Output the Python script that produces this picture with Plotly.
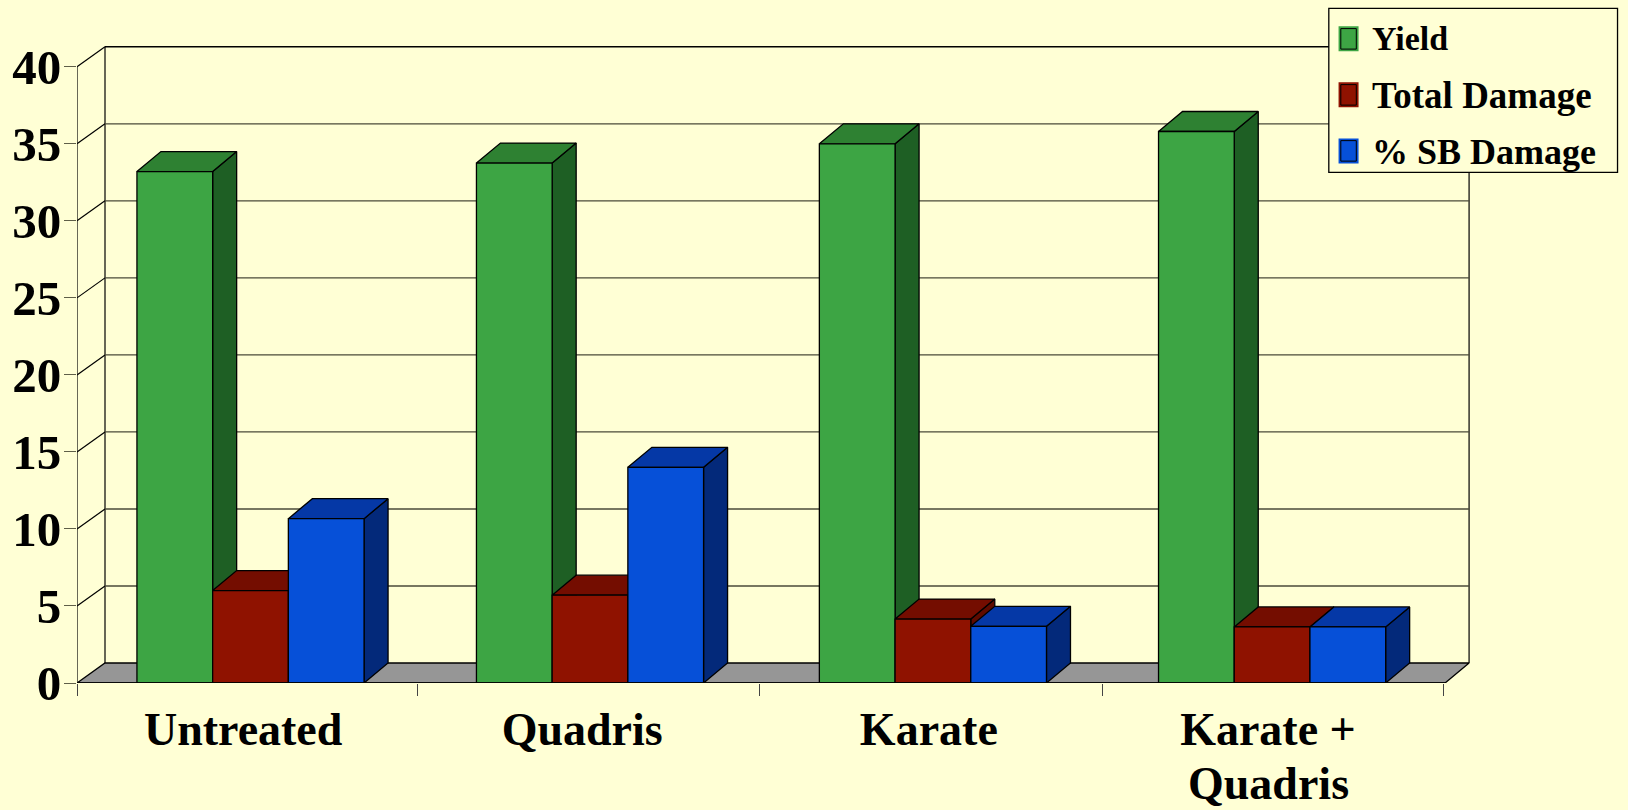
import plotly.graph_objects as go

categories = ["Untreated", "Quadris", "Karate", "Karate +"]
category_second_line = "Quadris"
series_names = ["Yield", "Total Damage", "% SB Damage"]
yield_values = [33.2, 33.75, 35.0, 35.8]
total_damage = [6.0, 5.7, 4.15, 3.64]
sb_damage = [10.67, 14.0, 3.68, 3.64]
y_ticks = [0, 5, 10, 15, 20, 25, 30, 35, 40]

BG = "#FFFFD5"
FONT = "Liberation Serif"
INK = "#000000"
front = ["#3DA544", "#8F1200", "#0650D8"]
top = ["#2E8132", "#740D00", "#0538A6"]
side = ["#1E5F24", "#5E0B00", "#03297A"]
series = [yield_values, total_damage, sb_damage]

# geometry in data units
PX_X, PX_Y = 340.5, 15.4          # pixels per category, pixels per y unit
X0_PX, Y0_PX = 250.7, 682.7       # page position of x=0, y=0
BW = 75.7 / PX_X                  # bar width
DX, DY = 24 / PX_X, 20 / PX_Y     # bar depth offset
X_LEFT = -0.5095
WALL_L = X_LEFT + 28 / PX_X
WALL_R = 3.5785
FRONT_R = WALL_R - 24 / PX_X
X_MAX, Y_MAX = 3.59, 42.0
CAT_POS = [0, 0.997, 2.004, 3.0]
LABEL_POS = [-0.0216, 0.974, 1.992, 2.988]
BOUNDS = [X_LEFT, 0.491, 1.496, 2.503, 3.503]

fig = go.Figure()


def poly(xs, ys, fill, lw=1.3, color=INK):
    fig.add_trace(go.Scatter(x=xs, y=ys, mode="lines", fill="toself", fillcolor=fill,
                             line=dict(color=color, width=lw), showlegend=False,
                             hoverinfo="skip", cliponaxis=False))


def line(xs, ys, color=INK, lw=1.2):
    fig.add_trace(go.Scatter(x=xs, y=ys, mode="lines", line=dict(color=color, width=lw),
                             showlegend=False, hoverinfo="skip", cliponaxis=False))


# floor
poly([X_LEFT, WALL_L, WALL_R, FRONT_R, X_LEFT], [0, DY, DY, 0, 0], "#969696")
# walls
line([WALL_L, WALL_L], [DY, 40 + DY])
line([WALL_R, WALL_R], [DY, 40 + DY])
line([X_LEFT, X_LEFT], [0, 40])
# gridlines
for t in y_ticks[1:]:
    line([X_LEFT, WALL_L], [t, t + DY])
    line([WALL_L, WALL_R], [t + DY, t + DY], color="#000000" if t == 40 else "#4A4A38", lw=1.4)

# 3D faces, painted from left to right
for c, cx in enumerate(CAT_POS):
    for s, vals in enumerate(series):
        v = vals[c]
        xl = cx - 1.5 * BW + s * BW
        xr = xl + BW
        poly([xr, xr + DX, xr + DX, xr, xr], [0, DY, v + DY, v, 0], side[s])
        poly([xl, xl + DX, xr + DX, xr, xl], [v, v + DY, v + DY, v, v], top[s])

# front faces on an overlaying axis pair
for s, vals in enumerate(series):
    fig.add_trace(go.Bar(x=CAT_POS, y=vals, name=series_names[s],
                         width=BW, offset=-1.5 * BW + s * BW,
                         marker=dict(color=front[s], line=dict(color=INK, width=1.3)),
                         showlegend=False, hoverinfo="skip", cliponaxis=False,
                         xaxis="x2", yaxis="y2"))

# legend, placed by page pixel
W, H = 1628, 810
ML = 77.3
PLOT_W = (X_MAX - X_LEFT) * PX_X
PLOT_H = Y_MAX * PX_Y
px = lambda v: (v - ML) / PLOT_W
py = lambda v: (Y0_PX - v) / PLOT_H
shapes = [dict(type="rect", xref="paper", yref="paper", x0=px(1329), x1=px(1617.7),
               y0=py(172.3), y1=py(8.3), line=dict(color=INK, width=1.3), fillcolor=BG, layer="above")]
annotations = []
for s, (name, sy, ty, fs) in enumerate(zip(series_names, [27, 83, 139], [38.5, 95.5, 152], [34, 37, 36])):
    shapes.append(dict(type="rect", xref="paper", yref="paper", x0=px(1339.5), x1=px(1358),
                       y0=py(sy + 23.5), y1=py(sy), fillcolor=front[s],
                       line=dict(color=front[s], width=1.5), layer="above"))
    shapes.append(dict(type="rect", xref="paper", yref="paper", x0=px(1341), x1=px(1356.5),
                       y0=py(sy + 22), y1=py(sy + 1.5), line=dict(color=INK, width=1), layer="above"))
    annotations.append(dict(text=f"<b>{name}</b>", xref="paper", yref="paper", x=px(1370), y=py(ty),
                            xanchor="left", yanchor="middle", showarrow=False,
                            font=dict(family=FONT, size=fs, color=INK)))
# second line of the last category label
annotations.append(dict(text=f"<b>{category_second_line}</b>", xref="x", yref="paper",
                        x=LABEL_POS[3], y=py(783.5), xanchor="center", yanchor="middle",
                        showarrow=False, font=dict(family=FONT, size=46, color=INK)))

axis_x = dict(range=[X_LEFT, X_MAX], showgrid=False, zeroline=False, showline=False)
axis_y = dict(range=[0, Y_MAX], showgrid=False, zeroline=False, showline=False)
fig.update_layout(
    width=W, height=H, autosize=False,
    margin=dict(l=ML, r=W - (ML + PLOT_W), t=Y0_PX - PLOT_H, b=H - Y0_PX, pad=0, autoexpand=False),
    paper_bgcolor=BG, plot_bgcolor=BG, showlegend=False, barmode="overlay",
    xaxis=dict(axis_x, tickmode="array",
               tickvals=LABEL_POS,
               ticktext=[f"<b>{c}</b>" for c in categories],
               ticks="outside", ticklen=0, ticklabelstandoff=6,
               tickfont=dict(family=FONT, size=46, color=INK),
               minor=dict(tickmode="array", tickvals=BOUNDS, ticks="outside", ticklen=12,
                          tickcolor="#444444", tickwidth=1.2)),
    yaxis=dict(axis_y, tickmode="array", tickvals=y_ticks,
               ticktext=[f"<b>{t}</b>" for t in y_ticks],
               ticks="outside", ticklen=12, tickcolor="#5E5E48", tickwidth=1.4,
               ticklabelstandoff=-7,
               tickfont=dict(family=FONT, size=49, color=INK)),
    xaxis2=dict(axis_x, overlaying="x", anchor="y2", visible=False),
    yaxis2=dict(axis_y, overlaying="y", anchor="x2", visible=False),
    shapes=shapes + [dict(type="line", xref="x2", yref="y2", x0=X_LEFT, x1=FRONT_R, y0=0, y1=0,
                          line=dict(color=INK, width=1.3), layer="above")],
    annotations=annotations,
)
fig.write_html("out.html", post_script="document.body.style.margin='0';document.body.style.background='" + BG + "';",
               config=dict(displayModeBar=False, responsive=False))
